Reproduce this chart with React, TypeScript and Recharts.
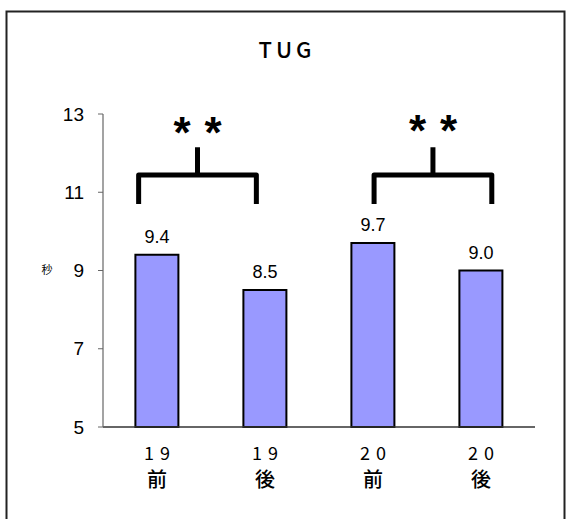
import React from 'react';
import { BarChart, Bar, XAxis, YAxis, LabelList } from 'recharts';

const periods = ['19', '19', '20', '20'];
const phases = ['前', '後', '前', '後'];
const seconds = [9.4, 8.5, 9.7, 9.0];
const yTicks = [5, 7, 9, 11, 13];
const title = 'TUG';
const unit = '秒';
const marks = ['**', '**'];

const W = 566;
const H = 519;
const X_AXIS_H = 60;
const Y_AXIS_W = 50;
const M = { top: 114, right: 31, bottom: 92 - X_AXIS_H, left: 53 };
const PLOT_L = M.left + Y_AXIS_W;
const PLOT_T = M.top;
const PLOT_W = W - PLOT_L - M.right;
const PLOT_H = H - M.top - M.bottom - X_AXIS_H;
const Y_MIN = 5;
const Y_MAX = 13;

const data = periods.map((p, i) => ({ name: `${p}${phases[i]}`, period: p, phase: phases[i], value: seconds[i] }));

// helpers for the bracket annotations (same geometry as the chart)
const band = PLOT_W / data.length;
const xAt = (i: number, frac: number) => PLOT_L + band * (i + frac);
const yAt = (v: number) => PLOT_T + PLOT_H * (1 - (v - Y_MIN) / (Y_MAX - Y_MIN));

const brackets = [
  { from: xAt(0, 0.33), to: xAt(1, 0.42), mark: marks[0] },
  { from: xAt(2, 0.51), to: xAt(3, 0.6), mark: marks[1] },
];

const XTick = (props: any) => {
  const { x, y, payload } = props;
  const d = data[payload.index];
  return (
    <g>
      <text x={x + 3} y={y + 25} textAnchor="middle" fontSize={18} letterSpacing={6}
        fontFamily="'Noto Sans CJK JP', sans-serif" fill="#000">
        {d.period}
      </text>
      <text x={x} y={y + 52} textAnchor="middle" fontSize={20} fontWeight={500}
        fontFamily="'Noto Sans CJK JP', sans-serif" fill="#000">
        {d.phase}
      </text>
    </g>
  );
};

const App: React.FC = () => {
  return (
    <div style={{ position: 'absolute', left: 0, top: 0, width: W, height: H, background: '#fff', overflow: 'hidden' }}>
      <BarChart width={W} height={H} data={data} margin={M} barCategoryGap="30%">
        <XAxis dataKey="name" tickLine={false} axisLine={{ stroke: '#333', strokeWidth: 1.5 }} tick={<XTick />} height={X_AXIS_H} interval={0} />
        <YAxis
          domain={[Y_MIN, Y_MAX]}
          ticks={yTicks}
          width={Y_AXIS_W}
          tickSize={5}
          tickMargin={14}
          tickLine={{ stroke: '#666' }}
          axisLine={{ stroke: '#666', strokeWidth: 1.2 }}
          tick={{ fill: '#000', fontSize: 19, fontFamily: 'Liberation Sans, Arial, sans-serif' }}
        />
        <Bar dataKey="value" fill="#9999ff" stroke="#000" strokeWidth={2} isAnimationActive={false}>
          <LabelList dataKey="value" position="top" offset={12} formatter={(v: any) => Number(v).toFixed(1)}
            style={{ fill: '#000', fontSize: 18, fontFamily: 'Liberation Sans, Arial, sans-serif' }} />
        </Bar>
      </BarChart>
      <svg width={W} height={H} style={{ position: 'absolute', left: 0, top: 0, pointerEvents: 'none' }}>
        <rect x={6.5} y={11.5} width={558} height={H} fill="none" stroke="#222" strokeWidth={2} />
        <text x={287} y={58} textAnchor="middle" fontSize={22} fontWeight={500} letterSpacing={4}
          fontFamily="'Noto Sans CJK JP', sans-serif" fill="#000">
          {title}
        </text>
        <text x={47} y={274} textAnchor="middle" fontSize={11}
          fontFamily="'Noto Sans CJK JP', sans-serif" fill="#000">
          {unit}
        </text>
        {brackets.map((b, i) => {
          const mid = (b.from + b.to) / 2;
          const yh = yAt(11.44);
          const yb = yAt(10.7);
          const ys = yAt(12.15);
          return (
            <g key={i}>
              <path d={`M${b.from},${yb} L${b.from},${yh} L${b.to},${yh} L${b.to},${yb}`} fill="none" stroke="#000" strokeWidth={5} strokeLinejoin="round" />
              <line x1={mid} y1={ys} x2={mid} y2={yh} stroke="#000" strokeWidth={5} />
              {b.mark.split('').map((m, j) => (
                <text key={j} x={mid + (j === 0 ? -15.5 : 15.5)} y={ys + 1 - 2 * i} textAnchor="middle" fontSize={44} fontWeight="bold"
                  fontFamily="Liberation Sans, Arial, sans-serif" fill="#000">
                  {m}
                </text>
              ))}
            </g>
          );
        })}
      </svg>
    </div>
  );
};

export default App;
